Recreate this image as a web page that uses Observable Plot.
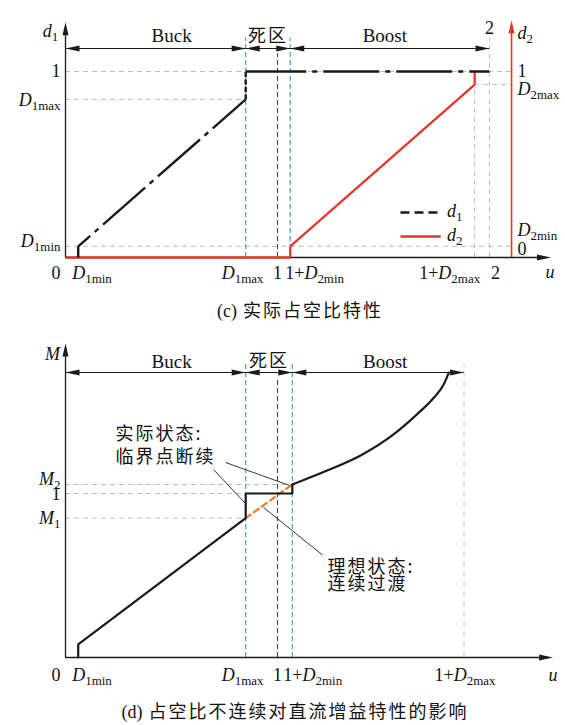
<!DOCTYPE html>
<html>
<head>
<meta charset="utf-8">
<script src="https://cdn.jsdelivr.net/npm/d3@7"></script>
<script src="https://cdn.jsdelivr.net/npm/@observablehq/plot@0.6"></script>
<style>
  body { margin: 0; background: #fff; }
  #wrap, #slotD { width: 565px; }
  .cap { width: 565px; height: 35px; box-sizing: border-box; text-align: center; color: #111; overflow: visible;
         font-family: "Noto Sans CJK SC", sans-serif; font-size: 18px; letter-spacing: 2px; white-space: nowrap; }
  .cap .lat { font-family: "Liberation Serif", "Times New Roman", serif; letter-spacing: 0; }
  #capC { line-height: 32px; padding-top: 3px; padding-left: 35px; }
  #capD { line-height: 27px; padding-top: 7px; padding-left: 25px; }
  svg { display: block; }
</style>
</head>
<body>
<div id="wrap"></div>
<div id="capC" class="cap"><span class="lat">(c)</span> 实际占空比特性</div>
<div id="slotD"></div>
<div id="capD" class="cap"><span class="lat">(d)</span> 占空比不连续对直流增益特性的影响</div>
<script>
// ---------- values ----------
// duty-cycle limits of the buck and boost legs
const limitNames = ["D1min", "D1max", "D2min", "D2max"];
const limitValues = [0.06, 0.85, 0.06, 0.93];

// (c) actual duty cycles against the control variable u
const d1U = [0.06, 0.06, 0.85, 0.85, 1.06, 2];
const d1Val = [0, 0.06, 0.85, 1, 1, 1];
const d2U = [0, 1.06, 1.06, 1.93, 1.93];
const d2Val = [0, 0, 0.06, 0.93, 1];

const uTicksC = [0, 0.06, 0.85, 1, 1.06, 1.93, 2];
const uLabelsC = ["0", "D_1min", "D_1max", "1", "1+D_2min", "1+D_2max", "2"];
const dTicksLeft = [1, 0.85, 0.06];
const dLabelsLeft = ["1", "D_1max", "D_1min"];
const dTicksRight = [1, 0.93, 0.06, 0.06];
const dLabelsRight = ["1", "D_2max", "D_2min", "0"];

// operating regions along u
const modeNames = ["Buck", "死区", "Boost"];
const modeStartC = [0, 0.85, 1.06];
const modeEndC = [0.85, 1.06, 2];

// (d) DC gain M against u
const gainU = [0.06, 0.06, 0.85, 0.85, 1.07, 1.07];
const gainM = [0, 0.08, 0.85, 1, 1, 1.055];
const boostU = [1.07, 1.234, 1.392, 1.549, 1.659, 1.738, 1.785, 1.808];
const boostM = [1.055, 1.14, 1.232, 1.362, 1.484, 1.585, 1.667, 1.737];
const idealU = [0.85, 1.07];
const idealM = [0.85, 1.055];

const uTicksD = [0, 0.06, 0.85, 1, 1.07, 1.88];
const uLabelsD = ["0", "D_1min", "D_1max", "1", "1+D_2min", "1+D_2max"];
const mTicks = [1.055, 1, 0.85];
const mLabels = ["M_2", "1", "M_1"];
const modeStartD = [0, 0.85, 1.07];
const modeEndD = [0.85, 1.07, 1.88];

const noteActual = ["实际状态:", "临界点断续"];
const noteIdeal = ["理想状态:", "连续过渡"];

// ---------- styling ----------
const RED = "#e8352b", BLUE = "#3d9fd6", ORANGE = "#ef7a2c", GRID = "#bdbdbd", INK = "#1a1a1a", DARK = "#444";
const SERIF = "'Liberation Serif','Times New Roman',serif";
const CJK = "'Noto Sans CJK SC',sans-serif";
const isCJK = s => /[\u4e00-\u9fff]/.test(s);

// filled arrowheads, tip at the anchor point
const head = {
  right: {draw(c) { c.moveTo(0, 0); c.lineTo(-14, -3); c.lineTo(-14, 3); c.closePath(); }},
  left:  {draw(c) { c.moveTo(0, 0); c.lineTo(14, -3); c.lineTo(14, 3); c.closePath(); }},
  up:    {draw(c) { c.moveTo(0, 0); c.lineTo(-3, 13); c.lineTo(3, 13); c.closePath(); }}
};
const tip = (x, y, dir, fill = INK) =>
  Plot.dot([{x, y}], {x: "x", y: "y", symbol: head[dir], fill, stroke: "none"});

const segments = (us, vs) => us.slice(1).map((u, i) => ({x1: us[i], y1: vs[i], x2: u, y2: vs[i + 1], i}));

function spanRow(starts, ends, yRow, yText, textDx) {
  const spans = starts.map((s, i) => ({s, e: ends[i], name: modeNames[i], i}));
  return [
    Plot.ruleY([yRow], {x1: starts[0], x2: ends[ends.length - 1], stroke: INK, strokeWidth: 1.1}),
    Plot.dot(spans, {x: "s", y: yRow, symbol: head.left, fill: INK, stroke: "none"}),
    Plot.dot(spans, {x: "e", y: yRow, symbol: head.right, fill: INK, stroke: "none"}),
    ...spans.map(d => Plot.text([d], {
      x: (d.s + d.e) / 2, y: yText, text: "name", dx: textDx[d.i],
      fontFamily: isCJK(d.name) ? CJK : SERIF, fontSize: isCJK(d.name) ? 18 : 19, fill: "#111"
    }))
  ];
}

// labels under the u axis
function xLabels(ticks, labels, dy, anchors, dxs) {
  return ticks.map((t, i) => Plot.text([labels[i]], {
    x: t, y: 0, text: d => d, dy, dx: dxs[i], textAnchor: anchors[i], fill: "#111"
  }));
}
// labels beside a vertical axis placed at u = xAxis
function yLabels(ticks, labels, xAxis, dx, anchor, dys) {
  return ticks.map((t, i) => Plot.text([labels[i]], {
    x: xAxis, y: t, text: d => d, dx, dy: dys[i], textAnchor: anchor, fill: "#111"
  }));
}

// rebuild "X_sub" labels as italic letter + roman subscript
function finish(svg) {
  d3.select(svg).selectAll("text").each(function () {
    const s = this.textContent;
    if (isCJK(s)) { this.setAttribute("letter-spacing", "2px"); return; }
    const m = /^(.*?)([A-Za-z])_(.+)$/.exec(s);
    if (!m) return;
    const t = d3.select(this).text(null);
    if (m[1]) t.append("tspan").text(m[1]);
    t.append("tspan").attr("font-style", "italic").text(m[2]);
    t.append("tspan").attr("font-size", "0.72em").attr("dy", "0.32em").text(m[3]);
  });
  return svg;
}

const lim = Object.fromEntries(limitNames.map((n, i) => [n, limitValues[i]]));
const AX2 = 2.104; // u position of the d2 axis

// ---------- (c) actual duty cycles ----------
const d1Segs = segments(d1U, d1Val);
const d1Style = ["solid", "dashdot", "dash", "solid", "dashdot"];
const d2Segs = segments(d2U, d2Val);

const chartC = Plot.plot({
  width: 565, height: 290,
  x: {domain: [0, 2], range: [65, 489], axis: null},
  y: {domain: [0, 1], range: [257, 71], axis: null},
  style: {fontFamily: SERIF, fontSize: "18px", color: INK, background: "#fff", overflow: "visible"},
  marks: [
    // guide lines
    Plot.ruleY([
      {y: 1, x1: 0, x2: AX2},
      {y: lim.D1max, x1: 0, x2: lim.D1max},
      {y: lim.D1min, x1: 0, x2: AX2},
      {y: lim.D2max, x1: 1 + lim.D2max, x2: AX2}
    ], {y: "y", x1: "x1", x2: "x2", stroke: GRID, strokeWidth: 1, strokeDasharray: "5,4"}),
    Plot.ruleX([1 + lim.D2max], {y1: 0, y2: lim.D2max, stroke: GRID, strokeWidth: 1, strokeDasharray: "5,4"}),
    Plot.ruleX([2], {y1: 0, y2: 1.175, stroke: GRID, strokeWidth: 1, strokeDasharray: "5,4"}),
    Plot.ruleX([1], {y1: 0, y2: 1.095, stroke: DARK, strokeWidth: 1.1, strokeDasharray: "5,3"}),
    Plot.ruleX([lim.D1max, 1 + lim.D2min], {y1: 0, y2: 1.18, stroke: BLUE, strokeWidth: 1.2, strokeDasharray: "5,3"}),
    // axes
    Plot.ruleY([0], {x1: 0, x2: 2.25, stroke: INK, strokeWidth: 1.3}),
    tip(2.29, 0, "right"),
    Plot.ruleX([0], {y1: 0, y2: 1.22, stroke: INK, strokeWidth: 1.3}),
    tip(0, 1.265, "up"),
    Plot.ruleX([AX2], {y1: 0, y2: 1.23, stroke: RED, strokeWidth: 1.6}),
    tip(AX2, 1.275, "up", RED),
    // d2
    Plot.link(d2Segs, {x1: "x1", y1: "y1", x2: "x2", y2: "y2", stroke: RED, strokeWidth: 2.3}),
    // d1
    Plot.link(d1Segs.filter(s => d1Style[s.i] === "solid"), {x1: "x1", y1: "y1", x2: "x2", y2: "y2", stroke: INK, strokeWidth: 2.4}),
    Plot.link(d1Segs.filter(s => d1Style[s.i] === "dash"), {x1: "x1", y1: "y1", x2: "x2", y2: "y2", stroke: INK, strokeWidth: 2.4, strokeDasharray: "5,2.5"}),
    Plot.link(d1Segs.filter(s => d1Style[s.i] === "dashdot"), {x1: "x1", y1: "y1", x2: "x2", y2: "y2", stroke: INK, strokeWidth: 2.4, strokeDasharray: "56,6,5,6", strokeDashoffset: 40}),
    // region arrows
    ...spanRow(modeStartC, modeEndC, 1.124, 1.19, [16, 0, -5]),
    // tick labels
    ...xLabels(uTicksC, uLabelsC, 16, ["end", "start", "middle", "middle", "start", "middle", "middle"], [-5, -6, -3, 0, -5, -25, 6]),
    ...yLabels(dTicksLeft, dLabelsLeft, 0, -5, "end", [0, 1, -5]),
    ...yLabels(dTicksRight, dLabelsRight, AX2, 6, "start", [0, 5, -16, 3]),
    Plot.text(["2"], {x: 2, y: 1.23, text: d => d, fill: "#111"}),
    // axis titles
    Plot.text(["d_1"], {x: 0, y: 1.215, text: d => d, dx: -15, fill: "#111"}),
    Plot.text(["d_2"], {x: AX2, y: 1.205, text: d => d, dx: 6, textAnchor: "start", fill: "#111"}),
    Plot.text(["u"], {x: 2.285, y: 0, text: d => d, dy: 15, fontStyle: "italic", fill: "#111"}),
    // legend
    Plot.link([{x1: 1.58, x2: 1.77, y: 0.242}], {x1: "x1", x2: "x2", y1: "y", y2: "y", stroke: INK, strokeWidth: 2.4, strokeDasharray: "9,5"}),
    Plot.link([{x1: 1.58, x2: 1.77, y: 0.113}], {x1: "x1", x2: "x2", y1: "y", y2: "y", stroke: RED, strokeWidth: 2.3}),
    Plot.text(["d_1", "d_2"], {x: 1.80, y: (d, i) => [0.242, 0.113][i], text: d => d, dy: -1, textAnchor: "start", fill: "#111"})
  ]
});
document.getElementById("wrap").appendChild(finish(chartC));

// ---------- (d) DC gain ----------
const chartD = Plot.plot({
  width: 565, height: 365,
  x: {domain: [0, 2], range: [65, 489], axis: null},
  y: {domain: [0, 1], range: [332, 168], axis: null},
  style: {fontFamily: SERIF, fontSize: "18px", color: INK, background: "#fff", overflow: "visible"},
  marks: [
    Plot.ruleY([
      {y: mTicks[0], x1: 0, x2: uTicksD[4]},
      {y: mTicks[1], x1: 0, x2: uTicksD[2]},
      {y: mTicks[2], x1: 0, x2: uTicksD[2]}
    ], {y: "y", x1: "x1", x2: "x2", stroke: GRID, strokeWidth: 1, strokeDasharray: "5,4"}),
    Plot.ruleX([uTicksD[5]], {y1: 0, y2: 1.79, stroke: "#cfcfcf", strokeWidth: 1.2, strokeDasharray: "6,4"}),
    Plot.ruleX([1], {y1: 0, y2: 1.707, stroke: DARK, strokeWidth: 1.1, strokeDasharray: "5,3"}),
    Plot.ruleX([uTicksD[2], uTicksD[4]], {y1: 0, y2: 1.79, stroke: BLUE, strokeWidth: 1.2, strokeDasharray: "5,3"}),
    // axes
    Plot.ruleY([0], {x1: 0, x2: 2.26, stroke: INK, strokeWidth: 1.3}),
    tip(2.30, 0, "right"),
    Plot.ruleX([0], {y1: 0, y2: 1.86, stroke: INK, strokeWidth: 1.3}),
    tip(0, 1.915, "up"),
    // leader lines for the notes
    Plot.link([
      {x1: 0.755, y1: 1.189, x2: 1.057, y2: 1.049},
      {x1: 0.698, y1: 1.146, x2: 0.849, y2: 0.939},
      {x1: 0.934, y1: 0.915, x2: 1.212, y2: 0.625}
    ], {x1: "x1", y1: "y1", x2: "x2", y2: "y2", stroke: "#333", strokeWidth: 1}),
    // ideal continuous transition
    Plot.line(idealU.map((u, i) => ({u, m: idealM[i]})), {x: "u", y: "m", stroke: ORANGE, strokeWidth: 2.2, strokeDasharray: "6,4"}),
    // actual gain
    Plot.line(gainU.map((u, i) => ({u, m: gainM[i]})), {x: "u", y: "m", stroke: INK, strokeWidth: 2.2}),
    Plot.line(boostU.map((u, i) => ({u, m: boostM[i]})), {x: "u", y: "m", stroke: INK, strokeWidth: 2.2, curve: "monotone-x"}),
    // region arrows
    ...spanRow(modeStartD, modeEndD, 1.738, 1.805, [16, 0, 7]),
    // tick labels
    ...xLabels(uTicksD, uLabelsD, 18, ["end", "start", "middle", "middle", "start", "middle"], [-5, -6, -3, 0, -9, 1]),
    ...yLabels(mTicks, mLabels, 0, -5, "end", [-5, 1, 0]),
    Plot.text(["M"], {x: 0, y: 1.85, text: d => d, dx: -13, fontStyle: "italic", fill: "#111"}),
    Plot.text(["u"], {x: 2.30, y: 0, text: d => d, dy: 18, fontStyle: "italic", fill: "#111"}),
    // notes
    Plot.text(noteActual, {x: 0.236, y: (d, i) => [1.36, 1.22][i], text: d => d, textAnchor: "start", fontFamily: CJK, fontSize: 18, fill: "#111"}),
    Plot.text(noteIdeal, {x: 1.236, y: (d, i) => [0.549, 0.445][i], text: d => d, textAnchor: "start", fontFamily: CJK, fontSize: 18, fill: "#111"})
  ]
});
document.getElementById("slotD").appendChild(finish(chartD));
</script>
</body>
</html>
